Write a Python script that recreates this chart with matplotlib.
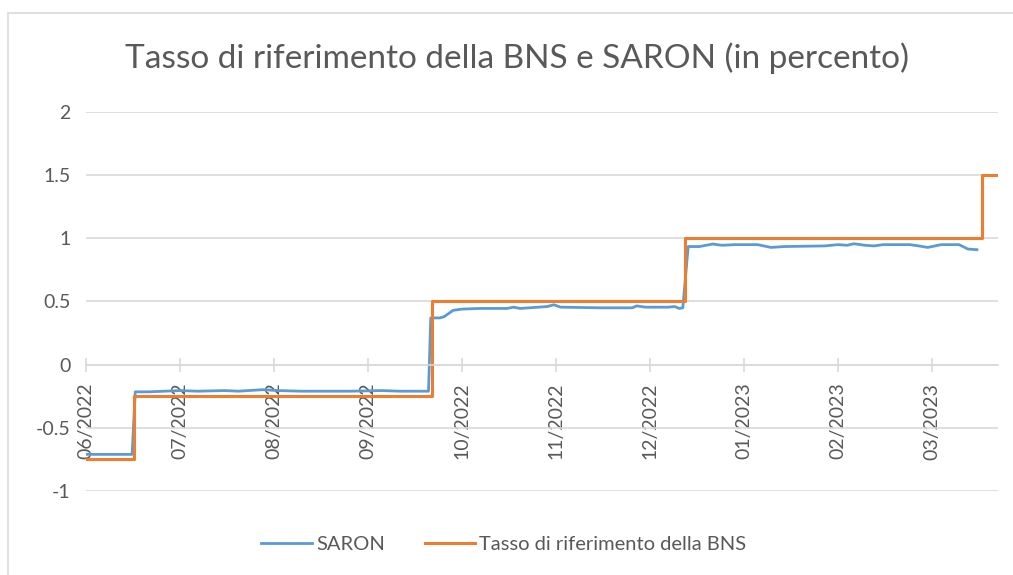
import matplotlib.pyplot as plt
from matplotlib.patches import Rectangle

# trading-day index (x) and values
saron_day = [0, 10.3, 11, 14, 21, 25, 31, 34, 39.5, 43, 48, 52, 59, 66, 70, 76.5,
             77, 79, 80, 82, 84, 88, 94, 95.5, 97, 103, 104.5, 106, 115, 122, 123,
             125, 130, 131.5, 132.5, 133.3,
             134.5, 137, 140, 142, 145, 150, 153, 156, 165, 168, 170, 171.5, 174,
             176, 178, 184, 186, 188, 191, 195, 197, 199]
saron_val = [-0.71, -0.71, -0.215, -0.215, -0.205, -0.21, -0.205, -0.21, -0.198, -0.205,
             -0.21, -0.21, -0.21, -0.205, -0.21, -0.21,
             0.37, 0.37, 0.38, 0.43, 0.44, 0.445, 0.445, 0.455, 0.445, 0.46, 0.474,
             0.455, 0.45, 0.45, 0.465, 0.455, 0.455, 0.46, 0.445, 0.45,
             0.935, 0.935, 0.955, 0.945, 0.95, 0.95, 0.928, 0.935, 0.94, 0.95, 0.945,
             0.957, 0.945, 0.94, 0.95, 0.95, 0.94, 0.928, 0.95, 0.95, 0.915, 0.91]

policy_day = [0, 10.7, 77.3, 133.9, 200.2, 203.7]
policy_rate = [-0.75, -0.25, 0.5, 1.0, 1.5, 1.5]

tick_day = [0, 21, 42, 63, 84, 105, 126, 147, 168, 189]
tick_labels = ["06/2022", "07/2022", "08/2022", "09/2022", "10/2022",
               "11/2022", "12/2022", "01/2023", "02/2023", "03/2023"]

plt.rcParams["font.family"] = ["Lato", "DejaVu Sans"]
text_color = "#595959"
grid_color = "#d9d9d9"

fig = plt.figure(figsize=(10.13, 5.75), dpi=100)
fig.patches.append(Rectangle((8 / 1013, -0.1), 1.2, 1 - 13 / 575 + 0.1,
                             transform=fig.transFigure, fill=False,
                             edgecolor="#d9d9d9", linewidth=1.2))
ax = fig.add_axes([86 / 1013, 84 / 575, 912 / 1013, 379 / 575])

ax.plot(saron_day, saron_val, color="#5B9BD5", linewidth=2, label="SARON")
ax.step(policy_day, policy_rate, where="post", color="#ED7D31", linewidth=2.2,
        label="Tasso di riferimento della BNS")

ax.set_xlim(0, 203.7)
ax.set_ylim(-1, 2)
ax.set_yticks([-1, -0.5, 0, 0.5, 1, 1.5, 2])
ax.set_yticklabels(["-1", "-0.5", "0", "0.5", "1", "1.5", "2"])
ax.set_xticks(tick_day)
ax.set_xticklabels(tick_labels)

ax.grid(axis="y", color=grid_color, linewidth=1.2)
ax.set_axisbelow(True)
for side in ["top", "right", "left"]:
    ax.spines[side].set_visible(False)
ax.spines["bottom"].set_position(("data", 0))
ax.spines["bottom"].set_color(grid_color)
ax.spines["bottom"].set_linewidth(1.2)
ax.tick_params(axis="x", direction="inout", length=10, width=1.2, color=grid_color,
               labelsize=14, labelcolor=text_color, pad=8, labelrotation=90)
ax.tick_params(axis="y", length=0, labelsize=14, labelcolor=text_color, pad=11)

fig.text(517 / 1013, 1 - 58 / 575, "Tasso di riferimento della BNS e SARON (in percento)",
         ha="center", va="center", fontsize=24, color=text_color)

fig.legend(loc="center", bbox_to_anchor=(504 / 1013, 1 - 544 / 575), ncol=2, frameon=False,
           fontsize=14.5, labelcolor=text_color, handlelength=2.5, columnspacing=2.0,
           handletextpad=0.2)

fig.savefig("out.png", dpi=100)
